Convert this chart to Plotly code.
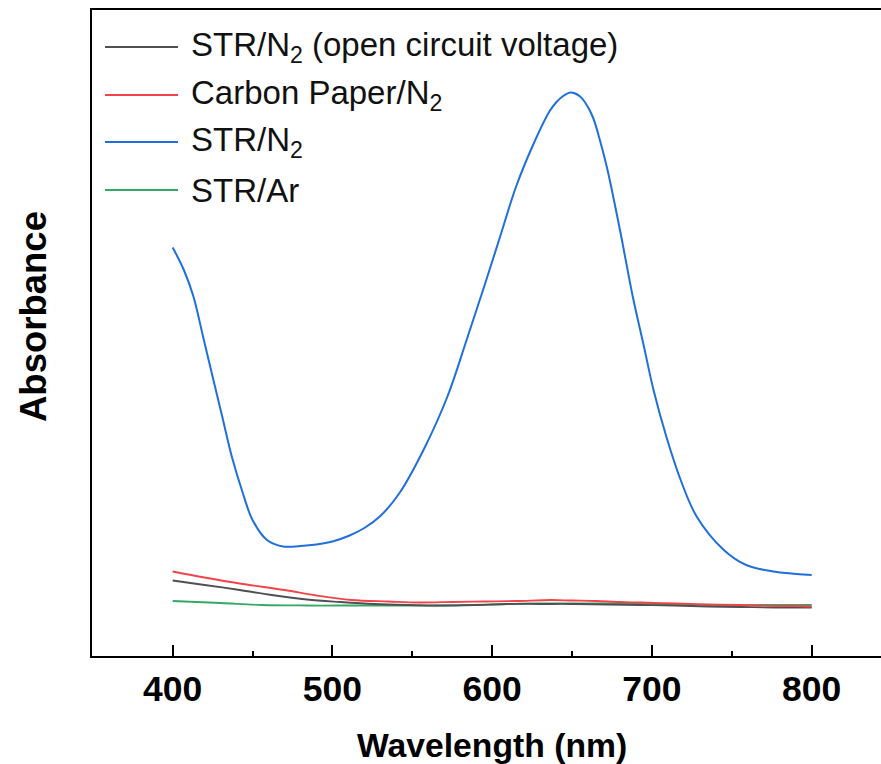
import plotly.graph_objects as go

# ---- data ----
wl_blue = [400, 407, 413, 419, 424, 431, 437, 444, 450, 459, 469, 480, 490, 500, 510, 520,
           530, 542, 557, 572, 584, 595, 605, 615, 626, 636, 640, 644, 649, 652, 655, 658,
           663, 668, 672, 680, 688, 695, 701, 709, 718, 728, 745, 759, 776, 800]
abs_blue = [0.817, 0.772, 0.719, 0.639, 0.572, 0.479, 0.399, 0.325, 0.272, 0.232, 0.219, 0.220,
            0.223, 0.229, 0.240, 0.256, 0.280, 0.326, 0.412, 0.519, 0.632, 0.739, 0.839, 0.939,
            1.025, 1.090, 1.107, 1.119, 1.127, 1.125, 1.119, 1.108, 1.078, 1.025, 0.975, 0.852,
            0.719, 0.619, 0.532, 0.439, 0.352, 0.279, 0.212, 0.182, 0.169, 0.162]

wl_red = [400, 420, 442, 470, 490, 512, 535, 554, 575, 595, 615, 637, 650, 665, 680, 693, 715,
          735, 755, 777, 790, 800]
abs_red = [0.169, 0.157, 0.145, 0.132, 0.121, 0.112, 0.109, 0.107, 0.108, 0.109, 0.110, 0.112,
           0.111, 0.110, 0.108, 0.107, 0.105, 0.103, 0.102, 0.100, 0.100, 0.099]

wl_black = [400, 420, 442, 462, 484, 505, 526, 547, 568, 589, 609, 630, 651, 672, 693, 714,
            735, 756, 777, 790, 800]
abs_black = [0.151, 0.142, 0.132, 0.122, 0.113, 0.108, 0.104, 0.102, 0.101, 0.102, 0.104, 0.104,
             0.104, 0.103, 0.102, 0.101, 0.099, 0.098, 0.097, 0.097, 0.097]

wl_green = [400, 430, 456, 484, 512, 540, 570, 600, 623, 650, 679, 707, 735, 770, 800]
abs_green = [0.110, 0.106, 0.102, 0.101, 0.101, 0.101, 0.101, 0.103, 0.105, 0.105, 0.105,
             0.104, 0.102, 0.102, 0.102]

series_names = ["STR/N<sub>2</sub> (open circuit voltage)", "Carbon Paper/N<sub>2</sub>",
                "STR/N<sub>2</sub>", "STR/Ar"]
series_colors = ["#505050", "#f2434a", "#1f6fdc", "#35a865"]
series_x = [wl_black, wl_red, wl_blue, wl_green]
series_y = [abs_black, abs_red, abs_blue, abs_green]

FONT = "Arial, 'Liberation Sans', sans-serif"

fig = go.Figure()
for i in [3, 0, 1, 2]:
    fig.add_trace(go.Scatter(x=series_x[i], y=series_y[i], mode="lines",
                             line=dict(color=series_colors[i], width=2 if i == 2 else 1.8,
                                       shape="spline", smoothing=1.0),
                             name=series_names[i], showlegend=False))

# manual legend (lines + text), in paper coordinates
W, H = 881, 764
L, R, T, B = 92, 0, 10, 108
pw, ph = W - L - R, H - T - B
def px2paper_x(px):
    return (px - L) / pw
def px2paper_y(py):
    return (H - B - py) / ph

leg_y = [47, 95, 142, 190]
for i, name in enumerate(series_names):
    y = px2paper_y(leg_y[i])
    fig.add_shape(type="line", xref="paper", yref="paper",
                  x0=px2paper_x(105), x1=px2paper_x(178), y0=y, y1=y,
                  line=dict(color=series_colors[i], width=2))
    fig.add_annotation(xref="paper", yref="paper", x=px2paper_x(189), y=y,
                       xanchor="left", yanchor="middle", text=name, showarrow=False,
                       font=dict(family=FONT, size=33, color="#111"))

# axis titles as annotations for exact placement
fig.add_annotation(xref="paper", yref="paper", x=px2paper_x(33), y=px2paper_y(317),
                   xanchor="center", yanchor="middle", textangle=-90, showarrow=False,
                   text="<b>Absorbance</b>", font=dict(family=FONT, size=36.5, color="black"))
fig.add_annotation(xref="paper", yref="paper", x=px2paper_x(491.5), y=px2paper_y(745),
                   xanchor="center", yanchor="middle", showarrow=False,
                   text="<b>Wavelength (nm)</b>", font=dict(family=FONT, size=33.7, color="black"))

fig.update_layout(
    width=W, height=H,
    margin=dict(l=L, r=R, t=T, b=B),
    paper_bgcolor="white", plot_bgcolor="white",
    font=dict(family=FONT, color="black"),
    showlegend=False,
)
fig.update_xaxes(
    range=[349.5, 843.4], tickmode="array", tickvals=[400, 500, 600, 700, 800],
    ticktext=["400", "500", "600", "700", "800"],
    ticks="inside", ticklen=11, tickwidth=2, tickcolor="black",
    minor=dict(ticks="inside", ticklen=5, tickwidth=2, tickcolor="black", dtick=50, tick0=350),
    showline=True, linecolor="black", linewidth=2, mirror=True,
    showgrid=False, zeroline=False,
    tickfont=dict(family=FONT, size=35.5, color="black", weight="bold"),
    ticklabelstandoff=0,
)
fig.update_yaxes(
    range=[0, 1.292], showticklabels=False, ticks="",
    showline=True, linecolor="black", linewidth=2, mirror=False,
    showgrid=False, zeroline=False,
)

fig.write_html("out.html")
